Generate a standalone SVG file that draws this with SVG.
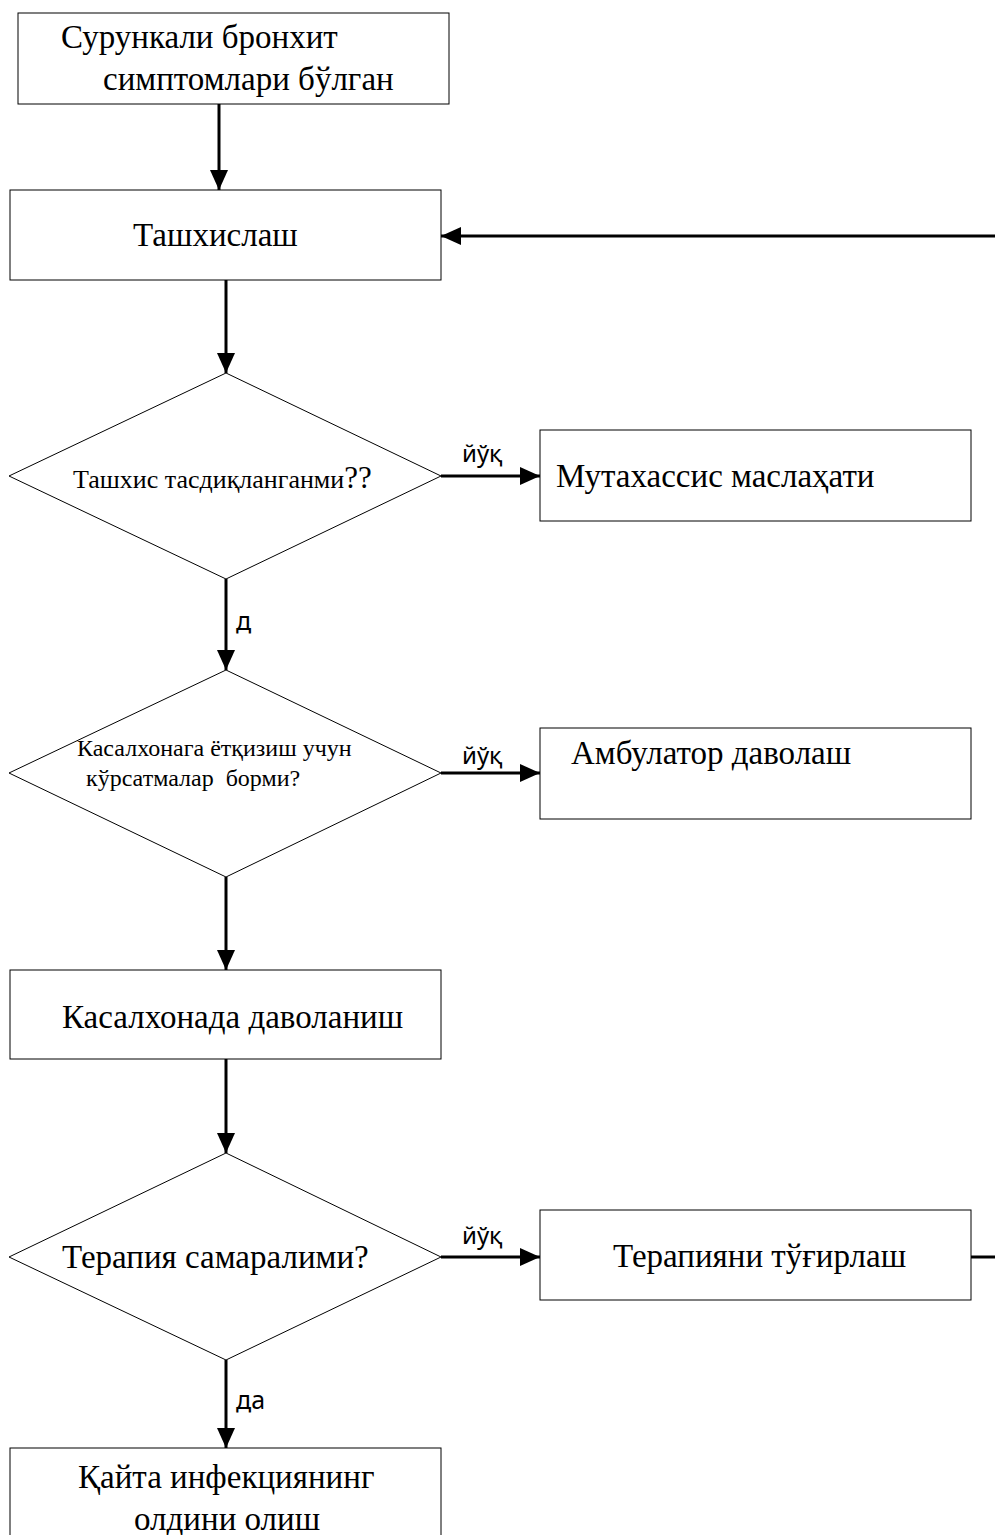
<svg xmlns="http://www.w3.org/2000/svg" width="995" height="1535" viewBox="0 0 995 1535">
<style>
.shape{fill:#fff;stroke:#000;stroke-width:1}
.t{font-family:"Liberation Serif","Times New Roman",serif;font-size:33px;fill:#000}
.ts{font-family:"Liberation Serif","Times New Roman",serif;font-size:24px;fill:#000;white-space:pre}
.lbl{font-family:"Noto Sans","Open Sans",sans-serif;fill:#000;font-size:24px}
.c{stroke:#000;stroke-width:3;fill:none}
</style>
<defs>
<marker id="ah" viewBox="0 0 10 9" refX="10" refY="4.5" markerWidth="6.7" markerHeight="6" markerUnits="strokeWidth" orient="auto">
<path d="M0,0 L10,4.5 L0,9 z" fill="#000"/>
</marker>
</defs>
<rect width="995" height="1535" fill="#fff"/>
<g id="connectors">
<line class="c" x1="219" y1="104" x2="219" y2="190" marker-end="url(#ah)"/>
<line class="c" x1="995" y1="236" x2="441" y2="236" marker-end="url(#ah)"/>
<line class="c" x1="226" y1="280" x2="226" y2="373" marker-end="url(#ah)"/>
<line class="c" x1="441" y1="476" x2="540" y2="476" marker-end="url(#ah)"/>
<line class="c" x1="226" y1="579" x2="226" y2="670" marker-end="url(#ah)"/>
<line class="c" x1="441" y1="773" x2="540" y2="773" marker-end="url(#ah)"/>
<line class="c" x1="226" y1="877" x2="226" y2="970" marker-end="url(#ah)"/>
<line class="c" x1="226" y1="1059" x2="226" y2="1153" marker-end="url(#ah)"/>
<line class="c" x1="441" y1="1257" x2="540" y2="1257" marker-end="url(#ah)"/>
<line class="c" x1="971" y1="1257" x2="995" y2="1257"/>
<line class="c" x1="226" y1="1360" x2="226" y2="1448" marker-end="url(#ah)"/>
<text class="lbl" x="462" y="462">йўқ</text>
<text class="lbl" x="236" y="630" style="font-size:25px">д</text>
<text class="lbl" x="462" y="764">йўқ</text>
<text class="lbl" x="462" y="1244">йўқ</text>
<text class="lbl" x="236" y="1409" style="font-size:25px">да</text>
</g>
<g id="n1">
<rect class="shape" x="18" y="13" width="431" height="91"/>
<text class="t" x="61" y="48">Сурункали бронхит</text>
<text class="t" x="103" y="90">симптомлари бўлган</text>
</g>
<g id="n2">
<rect class="shape" x="10" y="190" width="431" height="90"/>
<text class="t" x="133" y="246">Ташхислаш</text>
</g>
<g id="d1">
<polygon class="shape" points="226,373 441,476 226,579 9,476"/>
<text class="ts" x="73" y="488" style="font-size:26px">Ташхис тасдиқланганми<tspan style="font-size:31px">??</tspan></text>
</g>
<g id="n3">
<rect class="shape" x="540" y="430" width="431" height="91"/>
<text class="t" x="556" y="487">Мутахассис маслаҳати</text>
</g>
<g id="d2">
<polygon class="shape" points="226,670 441,773 226,877 9,773"/>
<text class="ts" x="77" y="756">Касалхонага ётқизиш учун</text>
<text class="ts" x="86" y="786">кўрсатмалар  борми?</text>
</g>
<g id="n4">
<rect class="shape" x="540" y="728" width="431" height="91"/>
<text class="t" x="571" y="764">Амбулатор даволаш</text>
</g>
<g id="n5">
<rect class="shape" x="10" y="970" width="431" height="89"/>
<text class="t" x="62" y="1028">Касалхонада даволаниш</text>
</g>
<g id="d3">
<polygon class="shape" points="226,1153 441,1257 226,1360 9,1257"/>
<text class="t" x="62" y="1268">Терапия самаралими?</text>
</g>
<g id="n6">
<rect class="shape" x="540" y="1210" width="431" height="90"/>
<text class="t" x="613" y="1267">Терапияни тўғирлаш</text>
</g>
<g id="n7">
<rect class="shape" x="10" y="1448" width="431" height="100"/>
<text class="t" x="78" y="1488">Қайта инфекциянинг</text>
<text class="t" x="134" y="1530">олдини олиш</text>
</g>
</svg>
